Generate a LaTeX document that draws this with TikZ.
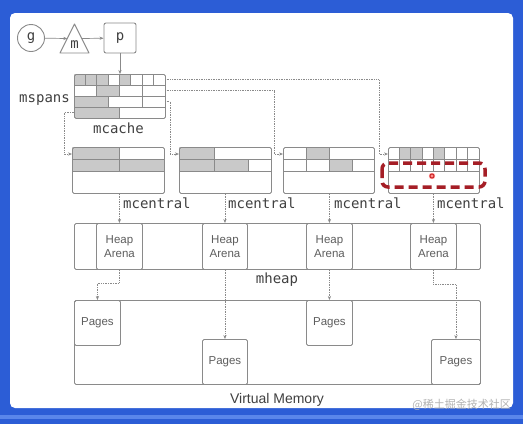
\documentclass[tikz,border=0pt]{standalone}
\usepackage{fontspec}
\setmainfont{Liberation Sans}
\setmonofont{DejaVu Sans Mono}
\newfontfamily\cjkfont{Noto Sans CJK SC}
\usetikzlibrary{shapes.geometric,arrows.meta,calc}
\definecolor{bgblue}{HTML}{2C5DD6}
\definecolor{bandblue}{HTML}{5A86EA}
\definecolor{boxgray}{HTML}{8A8A8A}
\definecolor{cellgray}{HTML}{C9C9C9}
\definecolor{txtgray}{HTML}{404040}
\definecolor{lbgray}{HTML}{5E5E5E}
\definecolor{hlred}{HTML}{A51E26}
\begin{document}
\begin{tikzpicture}[x=1pt,y=-1pt,
  box/.style={draw=boxgray,line width=0.9pt,rounded corners=1.5pt,inner sep=0pt,anchor=north west},
  grid/.style={draw=boxgray,line width=0.8pt},
  cellg/.style={fill=cellgray},
  mono/.style={font=\ttfamily\fontsize{14}{16}\selectfont,text=txtgray,inner sep=0pt},
  sans/.style={font=\fontsize{11.5}{14}\selectfont,text=lbgray,align=center,inner sep=0pt},
  dl/.style={draw=boxgray,densely dotted,line width=0.7pt},
  arr/.style={-{Stealth[length=4pt,width=3.2pt]}},
]
\useasboundingbox (0,0) rectangle (523,424);
% frame
\fill[bgblue] (0,0) rectangle (523,424);
\fill[bandblue] (0,415) rectangle (523,419);
\fill[white,rounded corners=5pt] (10,13) rectangle (513,408);

% g, m, p
\node[draw=boxgray,line width=0.9pt,circle,minimum size=27pt,inner sep=0pt,mono] (g) at (31,38) {g};
\draw[boxgray,line width=0.9pt,line join=round] (74.5,24) -- (89,53) -- (60,53) -- cycle;
\coordinate (triL) at (67.3,38.5);
\coordinate (triR) at (81.7,38.5);
\node[mono] (mlab) at (74.5,45) {m};
\node[draw=boxgray,line width=0.9pt,rounded corners=2pt,minimum width=32pt,minimum height=30pt,inner sep=0pt,mono] (p) at (120,38) {p};
\draw[boxgray,line width=0.7pt,arr] (g) -- (triL);
\draw[boxgray,line width=0.7pt,arr] (triR) -- (p);

% mspans / mcache
\foreach \i in {0,1,2,4} \fill[cellg] ({74+\i*11.375},74) rectangle ++(11.375,11);
\fill[cellg] (96.75,85) rectangle (119.5,96);
\fill[cellg] (74,96) rectangle (108.1,107);
\fill[cellg] (74,107) rectangle (119.5,118);
\node[box,minimum width=91pt,minimum height=44pt] (ms) at (74,74) {};
\foreach \yy in {85,96,107} \draw[grid] (74,\yy) -- (165,\yy);
\foreach \i in {1,...,7} \draw[grid] ({74+\i*11.375},74) -- ++(0,11);
\foreach \xx in {96.75,119.5,142.25} \draw[grid] (\xx,85) -- (\xx,96);
\foreach \xx in {108.1,142.25} \draw[grid] (\xx,96) -- (\xx,107);
\draw[grid] (119.5,107) -- (119.5,118);
\draw[boxgray,line width=0.7pt,arr] (p) -- (ms.north -| p);
\node[mono,anchor=base east] (mslab) at (70,102) {mspans};
\node[mono,anchor=base] (mclab) at (118.5,133) {mcache};

% mcentral boxes
% c1
\fill[cellg] (72,147) rectangle (119,159);
\fill[cellg] (72,159) rectangle (164,171);
\node[box,minimum width=92pt,minimum height=46pt] (c1) at (72,147) {};
\draw[grid] (72,159) -- (164,159);
\draw[grid] (72,171) -- (164,171);
\draw[grid] (119,147) -- (119,171);
% c2
\fill[cellg] (179,147) rectangle (214,159);
\fill[cellg] (179,159) rectangle (248,171);
\node[box,minimum width=92pt,minimum height=46pt] (c2) at (179,147) {};
\draw[grid] (179,159) -- (271,159);
\draw[grid] (179,171) -- (271,171);
\draw[grid] (214,147) -- (214,171);
\draw[grid] (248,159) -- (248,171);
% c3
\fill[cellg] (306,147) rectangle (329,159);
\fill[cellg] (329,159) rectangle (352,171);
\node[box,minimum width=91pt,minimum height=46pt] (c3) at (283,147) {};
\draw[grid] (283,159) -- (374,159);
\draw[grid] (283,171) -- (374,171);
\draw[grid] (306,147) -- (306,171);
\draw[grid] (329,147) -- (329,171);
\draw[grid] (352,159) -- (352,171);
% c4
\foreach \i in {1,2,4} \fill[cellg] ({388+\i*11.375},147) rectangle ++(11.375,12);
\node[box,minimum width=91pt,minimum height=46pt] (c4) at (388,147) {};
\draw[grid] (388,159) -- (479,159);
\draw[grid] (388,171) -- (479,171);
\foreach \i in {1,...,7} \draw[grid] ({388+\i*11.375},147) -- ++(0,24);

% highlight
\draw[hlred,line width=3.5pt,dash pattern=on 9pt off 5pt,rounded corners=6pt] (382,163) rectangle (485,187);
\fill[red!45!white] (432,176) circle (3.2pt);
\draw[red!70!black,line width=0.6pt] (432,176) circle (2pt);

% mspans -> mcentral connectors
\coordinate (ms4) at (74,112.5);
\coordinate (ms3) at (165,101.5);
\coordinate (ms2) at (165,90.6);
\coordinate (ms1) at (165,79.7);
\draw[dl,arr] (ms4) -- ++(-10,0) |- ($(c1.north west)+(0,7)$);
\draw[dl,arr] (ms3) -- ++(5,0) |- ($(c2.north west)+(0,7)$);
\draw[dl,arr] (ms2) -- (274,90.6) |- ($(c3.north west)+(0,7)$);
\draw[dl,arr] (ms1) -- (379,79.7) |- ($(c4.north west)+(0,7)$);

% mcentral labels
\node[mono,anchor=base west] (l1) at (123,208) {mcentral};
\node[mono,anchor=base west] (l2) at (228,208) {mcentral};
\node[mono,anchor=base west] (l3) at (334,208) {mcentral};
\node[mono,anchor=base west] (l4) at (437,208) {mcentral};

% mheap
\node[box,minimum width=406pt,minimum height=46pt] (mh) at (74,223) {};
\node[box,minimum width=46pt,minimum height=46pt,sans] (a1) at (96,223) {Heap\\Arena};
\node[box,minimum width=45pt,minimum height=46pt,sans] (a2) at (202,223) {Heap\\Arena};
\node[box,minimum width=46pt,minimum height=46pt,sans] (a3) at (306,223) {Heap\\Arena};
\node[box,minimum width=46pt,minimum height=46pt,sans] (a4) at (410,223) {Heap\\Arena};
\node[mono,anchor=base] (mhlab) at (277,283) {mheap};

\draw[dl,arr] (a1.north |- c1.south) -- (a1.north);
\draw[dl,arr] (a2.north |- c2.south) -- (a2.north);
\draw[dl,arr] (a3.north |- c3.south) -- (a3.north);
\draw[dl,arr] (a4.north |- c4.south) -- (a4.north);

% virtual memory
\node[box,minimum width=406pt,minimum height=84pt] (vm) at (74,300) {};
\node[box,minimum width=46pt,minimum height=45pt,sans] (p1) at (74,300) {Pages};
\node[box,minimum width=45pt,minimum height=45pt,sans] (p2) at (202,339) {Pages};
\node[box,minimum width=46pt,minimum height=45pt,sans] (p3) at (306,300) {Pages};
\node[box,minimum width=49pt,minimum height=45pt,sans] (p4) at (431,339) {Pages};
\node[font=\fontsize{14}{16}\selectfont,text=txtgray,anchor=base,inner sep=0pt] (vmlab) at (277,403) {Virtual Memory};

\draw[dl,arr] (a1.south) -- ++(0,13) -| (p1.north);
\draw[dl,arr] (a2.south) -- (p2.north);
\draw[dl,arr] (a3.south) -- (p3.north);
\draw[dl,arr] (a4.south) -- ++(0,14) -| (p4.north);

% watermark
\node[font=\cjkfont\fontsize{11}{12}\selectfont,text=black!30,anchor=east,inner sep=0pt] (wm) at (511,405) {@稀土掘金技术社区};
\end{tikzpicture}
\end{document}
